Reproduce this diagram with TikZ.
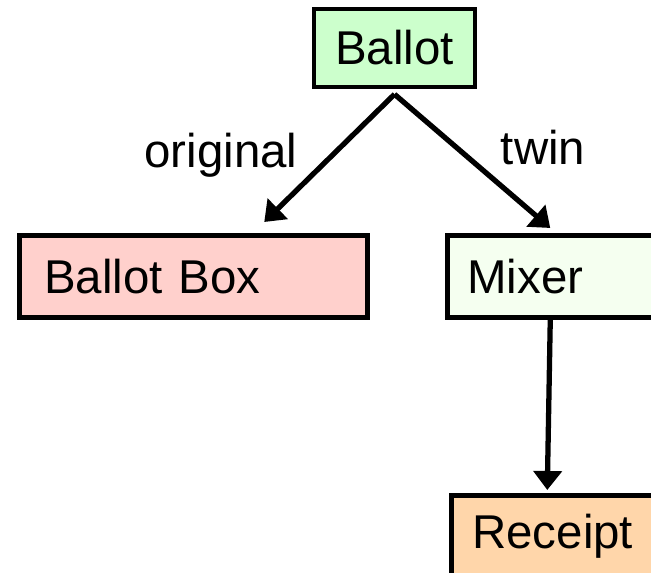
\documentclass[tikz,border=0pt]{standalone}
\usepackage{fontspec}
\setmainfont{Liberation Sans}
\usetikzlibrary{arrows.meta}
\definecolor{ballotgreen}{RGB}{204,255,204}
\definecolor{boxpink}{RGB}{255,208,204}
\definecolor{mixergreen}{RGB}{245,255,240}
\definecolor{receiptpeach}{RGB}{255,214,170}
\begin{document}
\begin{tikzpicture}[x=0.02cm, y=-0.02cm,
        every node/.style={font=\fontsize{27}{32}\selectfont},
        box/.style={draw, line width=2.6pt, minimum height=1.64cm, align=left},
        arr/.style={line width=3pt, -{Triangle[length=0.38cm, width=0.56cm]}}]
    \useasboundingbox (0, 0) rectangle (651, 573);
    \node[box, fill=ballotgreen, minimum width=3.22cm, minimum height=1.56cm] (ballot) at (394.5, 48) {Ballot};
    \node[box, fill=boxpink, anchor=north west, inner xsep=0.5cm, text width=5.96cm] (ballotbox) at (17, 233) {Ballot Box};
    \node[box, fill=mixergreen, anchor=north west, inner xsep=0.4cm, text width=3.32cm] (mixer) at (445, 233) {Mixer};
    \node[box, fill=receiptpeach, anchor=north west, inner xsep=0.42cm, text width=3.56cm] (receipt) at (449, 493) {Receipt};
    \node (original) at (221, 155) {original};
    \node (twin) at (543, 148) {twin};
    \draw[arr] ([yshift=-0.1cm]ballot.south) -- ([shift={(71, -11)}]ballotbox.north);
    \draw[arr] ([yshift=-0.1cm]ballot.south) -- ([shift={(0, -5)}]mixer.north);
    \draw[arr] (mixer.south) -- ([shift={(-14, -3)}]receipt.north);
\end{tikzpicture}
\end{document}
